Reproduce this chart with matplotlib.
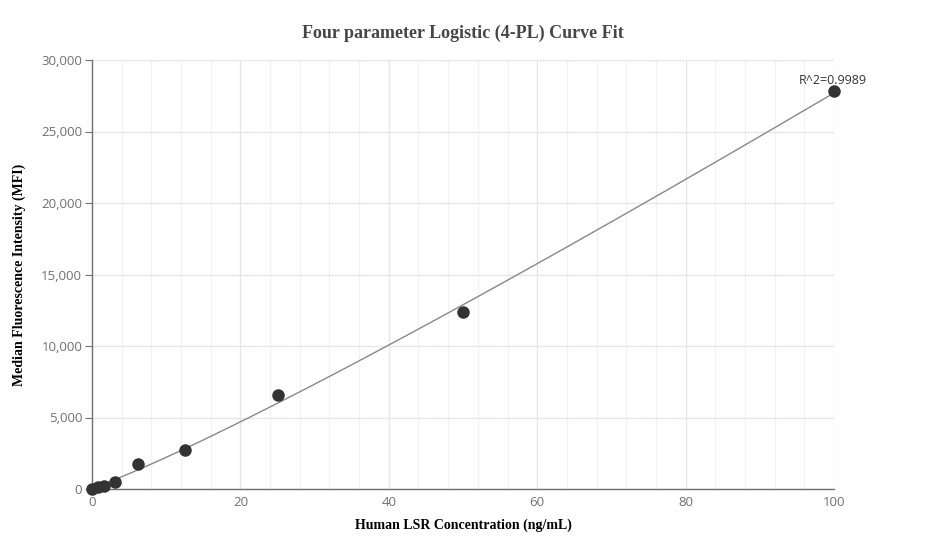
import numpy as np
import matplotlib
matplotlib.use("Agg")
import matplotlib.pyplot as plt
from matplotlib.ticker import FuncFormatter, MultipleLocator

conc = [0, 0.78, 1.56, 3.125, 6.25, 12.5, 25, 50, 100]
mfi = [20, 160, 230, 490, 1750, 2700, 6550, 12400, 27800]
r2_label = "R^2=0.9989"
title = "Four parameter Logistic (4-PL) Curve Fit"
xlabel = "Human LSR Concentration (ng/mL)"
ylabel = "Median Fluorescence Intensity (MFI)"

x = np.array(conc, dtype=float)
y = np.array(mfi, dtype=float)

# 4PL fit: y = d + (a - d) / (1 + (x/c)^b); linear in a, d for given b, c
best = None
for b in np.linspace(0.8, 2.0, 61):
    for c in np.geomspace(50, 5000, 120):
        g = 1.0 / (1.0 + (x / c) ** b)
        A = np.column_stack([g, 1 - g])
        coef, *_ = np.linalg.lstsq(A, y, rcond=None)
        res = np.sum((A @ coef - y) ** 2)
        if best is None or res < best[0]:
            best = (res, b, c, coef)
_, bb, cc, (aa, dd) = best
xf = np.linspace(0, 100, 400)
yf = dd + (aa - dd) / (1 + (xf / cc) ** bb)

sans = ["Open Sans", "DejaVu Sans"]
serif = ["Liberation Serif", "DejaVu Serif"]

fig = plt.figure(figsize=(9.27, 5.6), dpi=100)
ax = fig.add_axes([92 / 927, (560 - 489) / 560, (834 - 92) / 927, (489 - 60) / 560])

ax.set_xlim(0, 100)
ax.set_ylim(0, 30000)
ax.xaxis.set_major_locator(MultipleLocator(20))
ax.xaxis.set_minor_locator(MultipleLocator(4))
ax.yaxis.set_major_locator(MultipleLocator(5000))
ax.yaxis.set_major_formatter(FuncFormatter(lambda v, p: f"{int(v):,}"))

ax.grid(which="major", color="#e3e6ee", linewidth=0.9)
ax.grid(which="minor", axis="x", color="#f1f2f7", linewidth=0.9)
ax.set_axisbelow(True)

for s in ["top", "right"]:
    ax.spines[s].set_visible(False)
for s in ["left", "bottom"]:
    ax.spines[s].set_color("#6e7079")
    ax.spines[s].set_linewidth(1)

ax.tick_params(axis="x", which="both", length=0, labelsize=9.5, labelcolor="#6e7079", pad=5)
ax.tick_params(axis="y", which="major", length=5, color="#6e7079", labelsize=9.5, labelcolor="#6e7079", pad=2)
for lab in ax.get_xticklabels() + ax.get_yticklabels():
    lab.set_family(sans)

ax.plot(xf, yf, color="#888888", linewidth=1, zorder=2)
ax.scatter(x, y, s=64, color="#333333", zorder=3, clip_on=False)

ax.annotate(r2_label, xy=(x[-1], y[-1]), xytext=(-1, 3), textcoords="offset points",
            ha="center", va="bottom", fontsize=9, color="#333333", family=sans)

fig.text((92 + 834) / 2 / 927, 1 - 33 / 560, title, ha="center", va="center",
         fontsize=13, fontweight="bold", color="#464646", family=serif)
ax.set_xlabel(xlabel, fontsize=10, fontweight="bold", family=serif, labelpad=7)
ax.set_ylabel(ylabel, fontsize=10, fontweight="bold", family=serif, labelpad=11)

fig.savefig("out.png", dpi=100)
